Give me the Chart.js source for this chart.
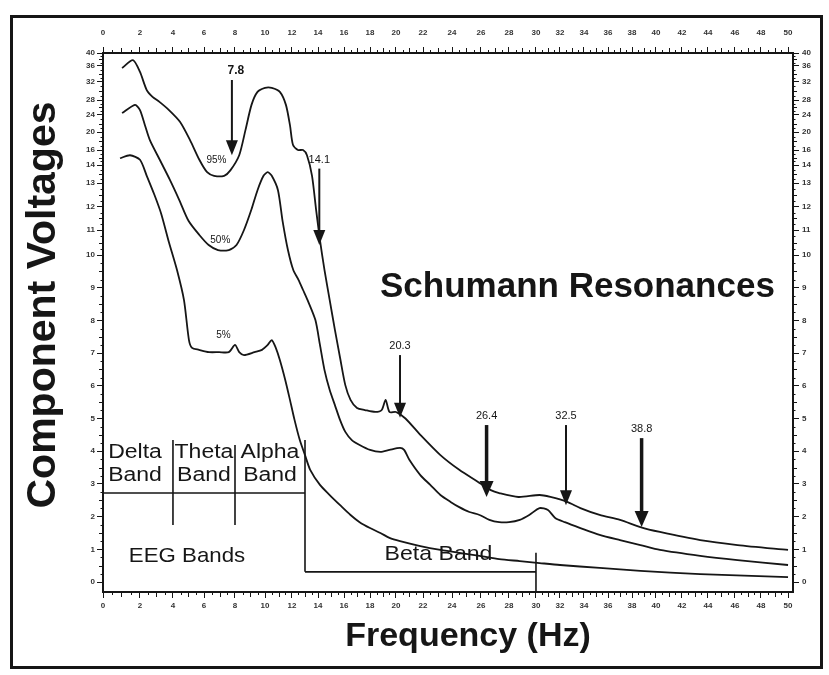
<!DOCTYPE html>
<html><head><meta charset="utf-8">
<script src="https://cdn.jsdelivr.net/npm/chart.js@4.4.1/dist/chart.umd.min.js"></script>
<style>
html,body{margin:0;padding:0;background:#fff;}
canvas{display:block;}
</style></head><body>
<canvas id="c" width="829" height="675"></canvas>
<script>
// ---------------- data ----------------
const freq95 = [1.03,1.62,2.0,2.41,2.76,3.18,3.76,4.45,5.1,5.7,6.2,6.65,7.3,7.7,8.28,8.7,9.1,9.5,10.0,10.5,11.1,11.55,11.85,12.08,12.46,12.85,13.15,13.54,13.85,14.15,14.5,14.9,15.3,15.7,16.1,16.5,17.0,17.6,18.4,18.9,19.2,19.5,20.0,20.7,21.8,23.2,24.5,25.8,26.7,27.3,28.7,30.3,31.2,32.6,33.7,35.3,37.0,38.7,40.3,43.4,46.2,50];
const volt95 = [35.5,37.8,34.5,30.2,28.7,27.5,25.3,22.4,18.2,14.7,13.6,13.4,13.4,13.7,15.3,20.5,26.7,29.8,30.7,30.7,29.8,26.7,21.6,17.1,16,16,15.3,13.4,11.9,10.6,9.54,8.62,7.71,6.85,6.02,5.57,5.32,5.26,5.2,5.26,5.57,5.2,5.2,5.0,4.5,3.88,3.43,3.06,2.81,2.72,2.6,2.66,2.6,2.45,2.26,2.05,1.9,1.68,1.53,1.28,1.13,0.98];

const freq50 = [1.03,1.73,2.0,2.3,2.6,3.2,3.8,4.4,5.0,5.7,6.3,6.9,7.6,8.1,8.6,9.1,9.5,9.9,10.2,10.5,10.96,11.3,11.7,12.1,12.5,12.85,13.2,13.8,14.15,14.5,14.9,15.3,15.7,16.1,16.6,17.2,18.0,18.8,19.5,20.3,20.6,21.0,21.8,22.5,23.2,23.9,24.5,25.2,25.9,26.6,27.3,28.0,28.8,29.5,30.3,31.0,31.6,32.4,33.7,35.3,37.0,38.7,40.3,43.4,46.2,50];
const volt50 = [24.5,26.7,25.3,21.6,18.2,14.7,13.2,12.3,11.4,10.8,10.4,10.2,10.2,10.4,11,11.9,12.7,13.4,13.6,13.4,12.7,11.4,10.2,9.54,9.24,8.93,8.62,8.01,7.25,6.48,5.87,5.41,4.95,4.59,4.34,4.19,4.04,3.98,4.04,4.1,4.04,3.73,3.27,2.97,2.66,2.45,2.29,2.14,2.05,1.9,1.83,1.83,1.9,2.05,2.26,2.2,1.96,1.83,1.65,1.44,1.28,1.13,0.98,0.8,0.67,0.52];

const freq5 = [0.92,1.46,2.0,2.41,2.88,3.29,3.76,4.26,4.71,5.03,5.23,5.68,6.32,6.97,7.6,8.0,8.28,8.6,9.3,9.8,10.2,10.5,10.8,11.1,11.5,11.85,12.2,12.6,13.0,13.4,14.15,14.9,15.7,16.5,17.2,18.0,18.8,19.5,20.3,21.8,23.2,24.5,25.9,27.3,28.8,30.3,32.0,35.3,38.7,43.4,50];
const volt5 = [14.9,15.3,14.7,13.4,12.5,11.7,10.5,9.54,8.62,7.4,7.16,7.1,7.03,7.03,7.03,7.25,7.03,6.94,7.03,7.1,7.25,7.4,7.16,6.79,6.18,5.57,4.95,4.34,3.88,3.43,2.97,2.66,2.35,2.05,1.83,1.65,1.5,1.35,1.25,1.1,0.98,0.89,0.8,0.7,0.64,0.58,0.52,0.43,0.34,0.24,0.15];

const seriesNames = ['95%','50%','5%'];
const seriesLabelFreq = [6.8, 7.05, 7.25];
const seriesLabelVolt = [14.7, 10.6, 7.55];

const freqTickLabels = [0,2,4,6,8,10,12,14,16,18,20,22,24,26,28,30,32,34,36,38,40,42,44,46,48,50];
const voltTickLabels = [0,1,2,3,4,5,6,7,8,9,10,11,12,13,14,16,20,24,28,32,36,40];

// Schumann resonance markers
const resonanceFreqs = [7.8, 14.1, 20.3, 26.4, 32.5, 38.8];
const resonanceLabels = ['7.8','14.1','20.3','26.4','32.5','38.8'];
const arrowTopVolts = [32.5, 13.8, 6.94, 4.8, 4.8, 4.4];
const arrowTipVolts = [15.3, 10.4, 5.02, 2.6, 2.35, 1.68];
const arrowHeavy = [false, false, false, true, false, true];

// EEG bands
const bandEdges = [0, 4, 8, 13, 30];
const bandNames = [['Delta','Band'], ['Theta','Band'], ['Alpha','Band']];
const eegLineVolt = 2.72;
const betaLineVolt = 0.31;

// non-linear axis definitions: [value, fraction of axis length]
const freqAxisKnots = [[0,0],[2,0.0536],[4,0.1014],[6,0.1464],[8,0.1913],[10,0.2348],[12,0.2739],[14,0.3116],[16,0.3493],[18,0.3870],[20,0.4246],[22,0.4638],[24,0.5058],[26,0.5478],[28,0.5884],[30,0.6275],[32,0.6623],[34,0.6971],[36,0.7319],[38,0.7667],[40,0.8014],[42,0.8391],[44,0.8768],[46,0.9159],[48,0.9536],[50,0.9928],[50.4,1]];
const voltAxisKnots = [[-0.3,0],[0,0.01855],[10,0.6252],[11,0.6716],[12,0.7143],[13,0.7588],[14,0.7922],[16,0.8200],[20,0.8534],[24,0.8850],[28,0.9128],[32,0.9462],[36,0.9759],[40,1]];

const WARP = {
  x: {knots: freqAxisKnots, ticks: freqTickLabels},
  y: {knots: voltAxisKnots, ticks: voltTickLabels}
};

class WarpScale extends Chart.LinearScale {
  static id = 'warp';
  static defaults = {};
  buildTicks(){ return WARP[this.axis].ticks.map(v => ({value: v})); }
  frac(v){
    const k = WARP[this.axis].knots;
    let i = 1;
    while (i < k.length - 1 && v > k[i][0]) i++;
    const a = k[i-1], b = k[i];
    return a[1] + (v - a[0]) * (b[1] - a[1]) / (b[0] - a[0]);
  }
  getPixelForValue(v){ return this.getPixelForDecimal(this.frac(v)); }
  getValueForPixel(p){
    const d = this.getDecimalForPixel(p);
    const k = WARP[this.axis].knots;
    let i = 1;
    while (i < k.length - 1 && d > k[i][1]) i++;
    const a = k[i-1], b = k[i];
    return a[0] + (d - a[1]) * (b[0] - a[0]) / (b[1] - a[1]);
  }
}
Chart.register(WarpScale);

const FONT = '"Liberation Sans", Arial, sans-serif';
const INK = '#161616';

function pts(f, v){ return f.map((x,i) => ({x: x, y: v[i]})); }

function wideText(ctx, txt, cx, cy, sx){
  ctx.save();
  ctx.translate(cx, cy); ctx.scale(sx, 1);
  ctx.fillText(txt, 0, 0);
  ctx.restore();
}

const tickFont = {family: FONT, size: 8, weight: 'bold'};
function axisOpts(pos, min, max, extra){
  return Object.assign({
    type: 'warp', position: pos, min: min, max: max,
    grid: {drawOnChartArea: false, drawTicks: true, tickLength: 6, tickColor: INK, tickWidth: 1},
    border: {display: false},
    ticks: {font: tickFont, color: '#333', autoSkip: false, maxRotation: 0, minRotation: 0, padding: 3,
            callback: v => String(v)}
  }, extra || {});
}

const decor = {
  id: 'decor',
  afterDraw(chart){
    const ctx = chart.ctx, xs = chart.scales.x, ys = chart.scales.y, a = chart.chartArea;
    const X = v => xs.getPixelForValue(v), Y = v => ys.getPixelForValue(v);
    ctx.save();
    ctx.strokeStyle = INK; ctx.fillStyle = INK;
    // outer frame
    ctx.lineWidth = 3;
    ctx.strokeRect(11.5, 16.5, 810, 651);
    // plot border
    ctx.lineWidth = 2;
    ctx.strokeRect(a.left, a.top, a.right - a.left, a.bottom - a.top);
    // minor ticks x
    ctx.lineWidth = 1;
    ctx.beginPath();
    for (let v = 0.5; v < 50.4; v += 0.5){
      if (Math.abs(v % 2) < 1e-9) continue;
      const len = Math.abs(v % 1) < 1e-9 ? 5 : 3;
      const px = Math.round(X(v)) + 0.5;
      ctx.moveTo(px, a.bottom); ctx.lineTo(px, a.bottom + len);
      ctx.moveTo(px, a.top); ctx.lineTo(px, a.top - len);
    }
    // minor ticks y
    const yMinor = [];
    for (let v = 0.25; v < 14; v += 0.25){ if (Math.abs(v % 1) > 1e-9) yMinor.push([v, Math.abs(v % 0.5) < 1e-9 ? 4 : 2.5]); }
    yMinor.push([14.5, 2.5], [15, 4], [15.5, 2.5]);
    for (let v = 17; v < 40; v++){ if (v % 4 !== 0) yMinor.push([v, v % 2 === 0 ? 4 : 2.5]); }
    yMinor.forEach(([v, len]) => {
      const py = Math.round(Y(v)) + 0.5;
      ctx.moveTo(a.left, py); ctx.lineTo(a.left - len, py);
      ctx.moveTo(a.right, py); ctx.lineTo(a.right + len, py);
    });
    ctx.stroke();

    // series labels
    ctx.font = '10px ' + FONT;
    ctx.textAlign = 'center'; ctx.textBaseline = 'middle';
    seriesNames.forEach((n, i) => ctx.fillText(n, X(seriesLabelFreq[i]), Y(seriesLabelVolt[i])));

    // resonance arrows
    resonanceFreqs.forEach((f, i) => {
      const x = X(f), y0 = Y(arrowTopVolts[i]), y1 = Y(arrowTipVolts[i]);
      const heavy = arrowHeavy[i];
      const hw = heavy ? 7 : 6, hh = heavy ? 16 : 15;
      ctx.lineWidth = heavy ? 3.5 : 2;
      ctx.beginPath(); ctx.moveTo(x, y0); ctx.lineTo(x, y1 - hh + 2); ctx.stroke();
      ctx.beginPath(); ctx.moveTo(x - hw, y1 - hh); ctx.lineTo(x + hw, y1 - hh); ctx.lineTo(x, y1); ctx.closePath(); ctx.fill();
      ctx.font = (i === 0 ? 'bold 12px ' : '11px ') + FONT;
      ctx.textAlign = 'center'; ctx.textBaseline = 'alphabetic';
      ctx.fillText(resonanceLabels[i], x + (i === 0 ? 4 : 0), y0 - 6);
    });

    // EEG bands
    const yE = Y(eegLineVolt), yB = Y(betaLineVolt);
    ctx.lineWidth = 1.6;
    ctx.beginPath();
    ctx.moveTo(X(bandEdges[0]), yE); ctx.lineTo(X(bandEdges[3]), yE);
    ctx.moveTo(X(bandEdges[1]), yE - 53); ctx.lineTo(X(bandEdges[1]), yE + 32);
    ctx.moveTo(X(bandEdges[2]), yE - 48); ctx.lineTo(X(bandEdges[2]), yE + 32);
    ctx.moveTo(X(bandEdges[3]), yE - 53); ctx.lineTo(X(bandEdges[3]), yB);
    ctx.moveTo(X(bandEdges[3]), yB); ctx.lineTo(X(bandEdges[4]), yB);
    ctx.moveTo(X(bandEdges[4]), yB - 19); ctx.lineTo(X(bandEdges[4]), a.bottom);
    ctx.stroke();
    ctx.font = '20px ' + FONT;
    ctx.textAlign = 'center'; ctx.textBaseline = 'middle';
    bandNames.forEach((nm, i) => {
      const cx = (X(bandEdges[i]) + X(bandEdges[i+1])) / 2 - (i === 0 ? 3 : 0);
      wideText(ctx, nm[0], cx, yE - 41, 1.15);
      wideText(ctx, nm[1], cx, yE - 18, 1.15);
    });
    ctx.font = '21px ' + FONT;
    wideText(ctx, 'EEG Bands', X(bandEdges[0]) + 84, yB - 16, 1.06);
    wideText(ctx, 'Beta Band', (X(bandEdges[3]) + X(bandEdges[4])) / 2 + 18, yB - 18, 1.1);

    // big label
    ctx.font = 'bold 35px ' + FONT;
    ctx.textAlign = 'left';
    ctx.fillText('Schumann Resonances', a.left + 277, a.top + 234);

    // axis titles
    ctx.font = 'bold 34px ' + FONT;
    ctx.textAlign = 'center';
    ctx.fillText('Frequency (Hz)', 468, 637);
    ctx.save();
    ctx.translate(44, 305); ctx.rotate(-Math.PI / 2);
    ctx.font = 'bold 41px ' + FONT;
    ctx.fillText('Component Voltages', 0, 0);
    ctx.restore();
    ctx.restore();
  }
};

const lineStyle = {borderColor: INK, borderWidth: 1.8, pointRadius: 0, tension: 0.25, fill: false};

new Chart(document.getElementById('c'), {
  type: 'line',
  data: {
    datasets: [
      Object.assign({label: '95%', data: pts(freq95, volt95)}, lineStyle),
      Object.assign({label: '50%', data: pts(freq50, volt50)}, lineStyle),
      Object.assign({label: '5%', data: pts(freq5, volt5)}, lineStyle)
    ]
  },
  options: {
    responsive: false, animation: false, devicePixelRatio: 1,
    layout: {padding: {left: 20, right: 6, top: 20, bottom: 40}},
    plugins: {legend: {display: false}, tooltip: {enabled: false}},
    scales: {
      x: axisOpts('bottom', 0, 50.4, {afterFit: s => { s.height = 675 - 40 - 592; }}),
      x2: axisOpts('top', 0, 50.4, {afterFit: s => { s.height = 53 - 20; },
            ticks: {font: tickFont, color: '#333', autoSkip: false, maxRotation: 0, minRotation: 0, padding: 9, callback: v => String(v)}}),
      y: axisOpts('left', -0.3, 40, {afterFit: s => { s.width = 103 - 20; },
            grid: {drawOnChartArea: false, tickLength: 6, tickColor: INK},
            ticks: {font: tickFont, color: '#333', autoSkip: false, padding: 2, callback: v => String(v)}}),
      y2: axisOpts('right', -0.3, 40, {afterFit: s => { s.width = 829 - 6 - 793; }})
    }
  },
  plugins: [decor]
});
</script>
</body></html>
